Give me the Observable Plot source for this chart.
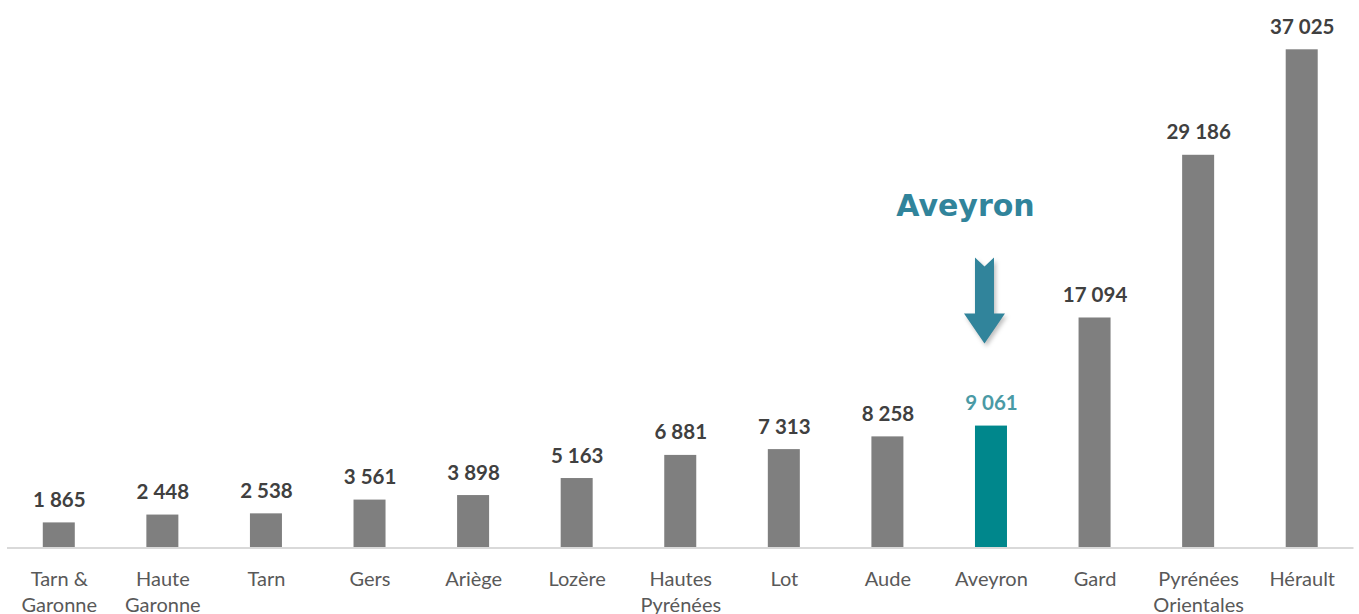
<!DOCTYPE html>
<html>
<head>
<meta charset="utf-8">
<script src="https://cdn.jsdelivr.net/npm/d3@7"></script>
<script src="https://cdn.jsdelivr.net/npm/@observablehq/plot@0.6"></script>
<style>
  html, body { margin: 0; padding: 0; background: #fff; }
  #chart svg { display: block; }
  .arrow path { filter: drop-shadow(2px 3px 2px rgba(0,0,0,0.25)); }
</style>
</head>
<body>
<div id="chart"></div>
<script>
// ---- data ----
const categories = ["Tarn & Garonne", "Haute Garonne", "Tarn", "Gers", "Ariège", "Lozère", "Hautes Pyrénées", "Lot", "Aude", "Aveyron", "Gard", "Pyrénées Orientales", "Hérault"];
const categoryLabels = ["Tarn &\nGaronne", "Haute\nGaronne", "Tarn", "Gers", "Ariège", "Lozère", "Hautes\nPyrénées", "Lot", "Aude", "Aveyron", "Gard", "Pyrénées\nOrientales", "Hérault"];
const values = [1865, 2448, 2538, 3561, 3898, 5163, 6881, 7313, 8258, 9061, 17094, 29186, 37025];
const highlight = "Aveyron";
const annotationTitle = "Aveyron";
const annotationTitleValue = 24700;   // vertical position of the title, in data units
const annotationArrowValue = 18400;   // vertical centre of the arrow, in data units

// ---- build table ----
const data = categories.map((c, i) => ({category: c, label: categoryLabels[i], value: values[i]}));
const fr = d3.formatLocale({decimal: ",", thousands: " ", grouping: [3], currency: ["", " €"]});
const fmt = fr.format(",d");

const gray = "#7f7f7f";
const teal = "#00878c";
const arrowColor = "#31849b";

const arrowSymbol = {
  draw(ctx) {
    ctx.moveTo(-9.5, -43);
    ctx.lineTo(0, -34);
    ctx.lineTo(9.5, -43);
    ctx.lineTo(9.5, 13);
    ctx.lineTo(20.5, 13);
    ctx.lineTo(0, 43);
    ctx.lineTo(-20.5, 13);
    ctx.lineTo(-9.5, 13);
    ctx.closePath();
  }
};

const chart = Plot.plot({
  width: 1359,
  height: 614,
  marginLeft: 7,
  marginRight: 5.5,
  marginTop: 49.3,
  marginBottom: 66.5,
  style: {background: "#fff", fontFamily: "Lato, 'Open Sans', sans-serif"},
  x: {type: "band", domain: categories, paddingInner: 0.691, paddingOuter: 0.3455, round: false, axis: null},
  y: {domain: [0, d3.max(values)], axis: null},
  marks: [
    Plot.barY(data, {x: "category", y: "value", fill: d => d.category === highlight ? teal : gray}),
    Plot.ruleY([0], {stroke: "#d9d9d9", strokeWidth: 2}),
    Plot.text(data, {
      x: "category", y: "value", text: d => fmt(d.value),
      lineAnchor: "bottom", dy: -16,
      fontSize: 20.5, fontWeight: "bold",
      fill: d => d.category === highlight ? "#4a9aa5" : "#404040"
    }),
    Plot.text(data, {
      x: "category", text: "label", frameAnchor: "bottom",
      lineAnchor: "top", lineHeight: 1.3, dy: 20,
      fontSize: 20, fill: "#595959"
    }),
    Plot.text([annotationTitle], {
      x: () => highlight, y: () => annotationTitleValue, text: d => d,
      lineAnchor: "bottom", dx: -26,
      fontFamily: "'DejaVu Sans', Verdana, sans-serif", fontWeight: "bold",
      fontSize: 30, fill: arrowColor
    }),
    Plot.dot([highlight], {
      x: d => d, y: () => annotationArrowValue, dx: -7,
      symbol: arrowSymbol, r: 10, fill: arrowColor, stroke: "none",
      className: "arrow"
    })
  ]
});
document.getElementById("chart").append(chart);
</script>
</body>
</html>
